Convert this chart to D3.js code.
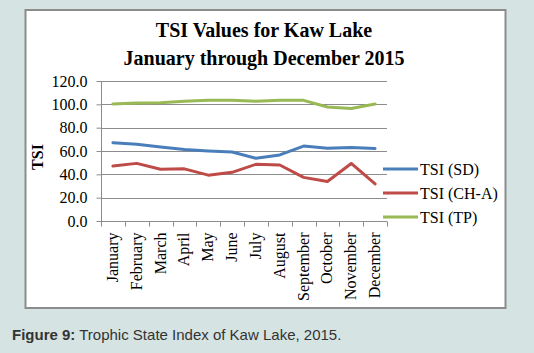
<!DOCTYPE html>
<html><head><meta charset="utf-8">
<script src="https://cdn.jsdelivr.net/npm/d3@7"></script>
<style>
html,body{margin:0;padding:0;background:#d5e3e3;}
svg{display:block;}
</style></head>
<body>
<svg id="c" width="534" height="353"></svg>
<script>
const months = ["January","February","March","April","May","June","July","August","September","October","November","December"];
const seriesNames = ["TSI (SD)","TSI (CH-A)","TSI (TP)"];
const tsiSD = [67.1,65.7,63.4,61.2,60.0,59.1,53.8,56.6,64.2,62.3,63.0,62.2];
const tsiCHA = [47.1,49.4,44.3,44.7,39.3,41.7,48.6,48.0,37.4,33.8,49.3,31.8];
const tsiTP = [100.3,101.1,101.4,102.6,103.4,103.4,102.6,103.4,103.4,97.7,96.5,100.3];
const yTicks = [0,20,40,60,80,100,120];
const colors = ["#4a7ebb","#be4b48","#98b954"];
const seriesVals = [tsiSD, tsiCHA, tsiTP];

const svg = d3.select("#c");
const serif = "'Liberation Serif','Times New Roman',serif";

// chart box
svg.append("rect").attr("x",25.5).attr("y",10).attr("width",480).attr("height",298)
  .attr("fill","#fff").attr("stroke","#8c8c8c").attr("stroke-width",2);

const L=101, R=387, T=81, B=221;
const x = d3.scaleBand().domain(months).range([L,R]);
const y = d3.scaleLinear().domain([0,120]).range([B,T]);

// gridlines
svg.append("g").selectAll("line").data(yTicks.filter(d=>d>0)).join("line")
  .attr("x1",L).attr("x2",R).attr("y1",d=>Math.round(y(d))+0.5).attr("y2",d=>Math.round(y(d))+0.5)
  .attr("stroke","#8c8c8c").attr("stroke-width",1);

// y axis
const ya = svg.append("g").attr("transform",`translate(${L+0.5},0)`)
  .call(d3.axisLeft(y).tickValues(yTicks).tickSize(5).tickPadding(9).tickFormat(d3.format(".1f")));
ya.select(".domain").attr("stroke","#8c8c8c").attr("d",`M0,${T}V${B}`);
ya.selectAll(".tick line").attr("stroke","#8c8c8c");
ya.selectAll(".tick text").attr("font-family",serif).attr("font-size",16).attr("fill","#000");

// x axis
const xa = svg.append("g").attr("transform",`translate(0,${Math.round(B)+0.5})`);
xa.append("line").attr("x1",L).attr("x2",R).attr("stroke","#8c8c8c");
xa.selectAll("line.tk").data(d3.range(13)).join("line").attr("class","tk")
  .attr("x1",i=>Math.round(L+i*x.step())+0.5).attr("x2",i=>Math.round(L+i*x.step())+0.5)
  .attr("y1",0).attr("y2",5).attr("stroke","#8c8c8c");
xa.selectAll("text").data(months).join("text")
  .attr("transform",d=>`translate(${x(d)+x.bandwidth()/2+5},11) rotate(-90)`)
  .attr("text-anchor","end").attr("font-family",serif).attr("font-size",16).attr("fill","#000")
  .text(d=>d);

// lines
const line = d3.line().x((d,i)=>x(months[i])+x.bandwidth()/2).y(d=>y(d));
svg.append("g").selectAll("path").data(seriesVals).join("path")
  .attr("d",d=>line(d)).attr("fill","none").attr("stroke",(d,i)=>colors[i])
  .attr("stroke-width",3).attr("stroke-linejoin","round").attr("stroke-linecap","round");

// title
svg.append("text").attr("x",264).attr("y",37).attr("text-anchor","middle")
  .attr("font-family",serif).attr("font-weight","bold").attr("font-size",20).text("TSI Values for Kaw Lake");
svg.append("text").attr("x",264).attr("y",65).attr("text-anchor","middle")
  .attr("font-family",serif).attr("font-weight","bold").attr("font-size",20).text("January through December 2015");

// y label
svg.append("text").attr("transform","translate(43,157) rotate(-90)").attr("text-anchor","middle")
  .attr("font-family",serif).attr("font-weight","bold").attr("font-size",16).text("TSI");

// legend
const lg = svg.append("g").selectAll("g").data(seriesNames).join("g")
  .attr("transform",(d,i)=>`translate(383,${[169,193,217][i]})`);
lg.append("line").attr("x1",0).attr("x2",35).attr("stroke",(d,i)=>colors[i]).attr("stroke-width",3);
lg.append("text").attr("x",37).attr("dy","0.35em").attr("font-family",serif).attr("font-size",16).text(d=>d);

// caption
const cap = svg.append("text").attr("x",12).attr("y",340).attr("font-family","'Liberation Sans',Arial,sans-serif")
  .attr("font-size",15).attr("fill","#333");
cap.append("tspan").attr("font-weight","bold").text("Figure 9:");
cap.append("tspan").text(" Trophic State Index of Kaw Lake, 2015.");
</script>
</body></html>
